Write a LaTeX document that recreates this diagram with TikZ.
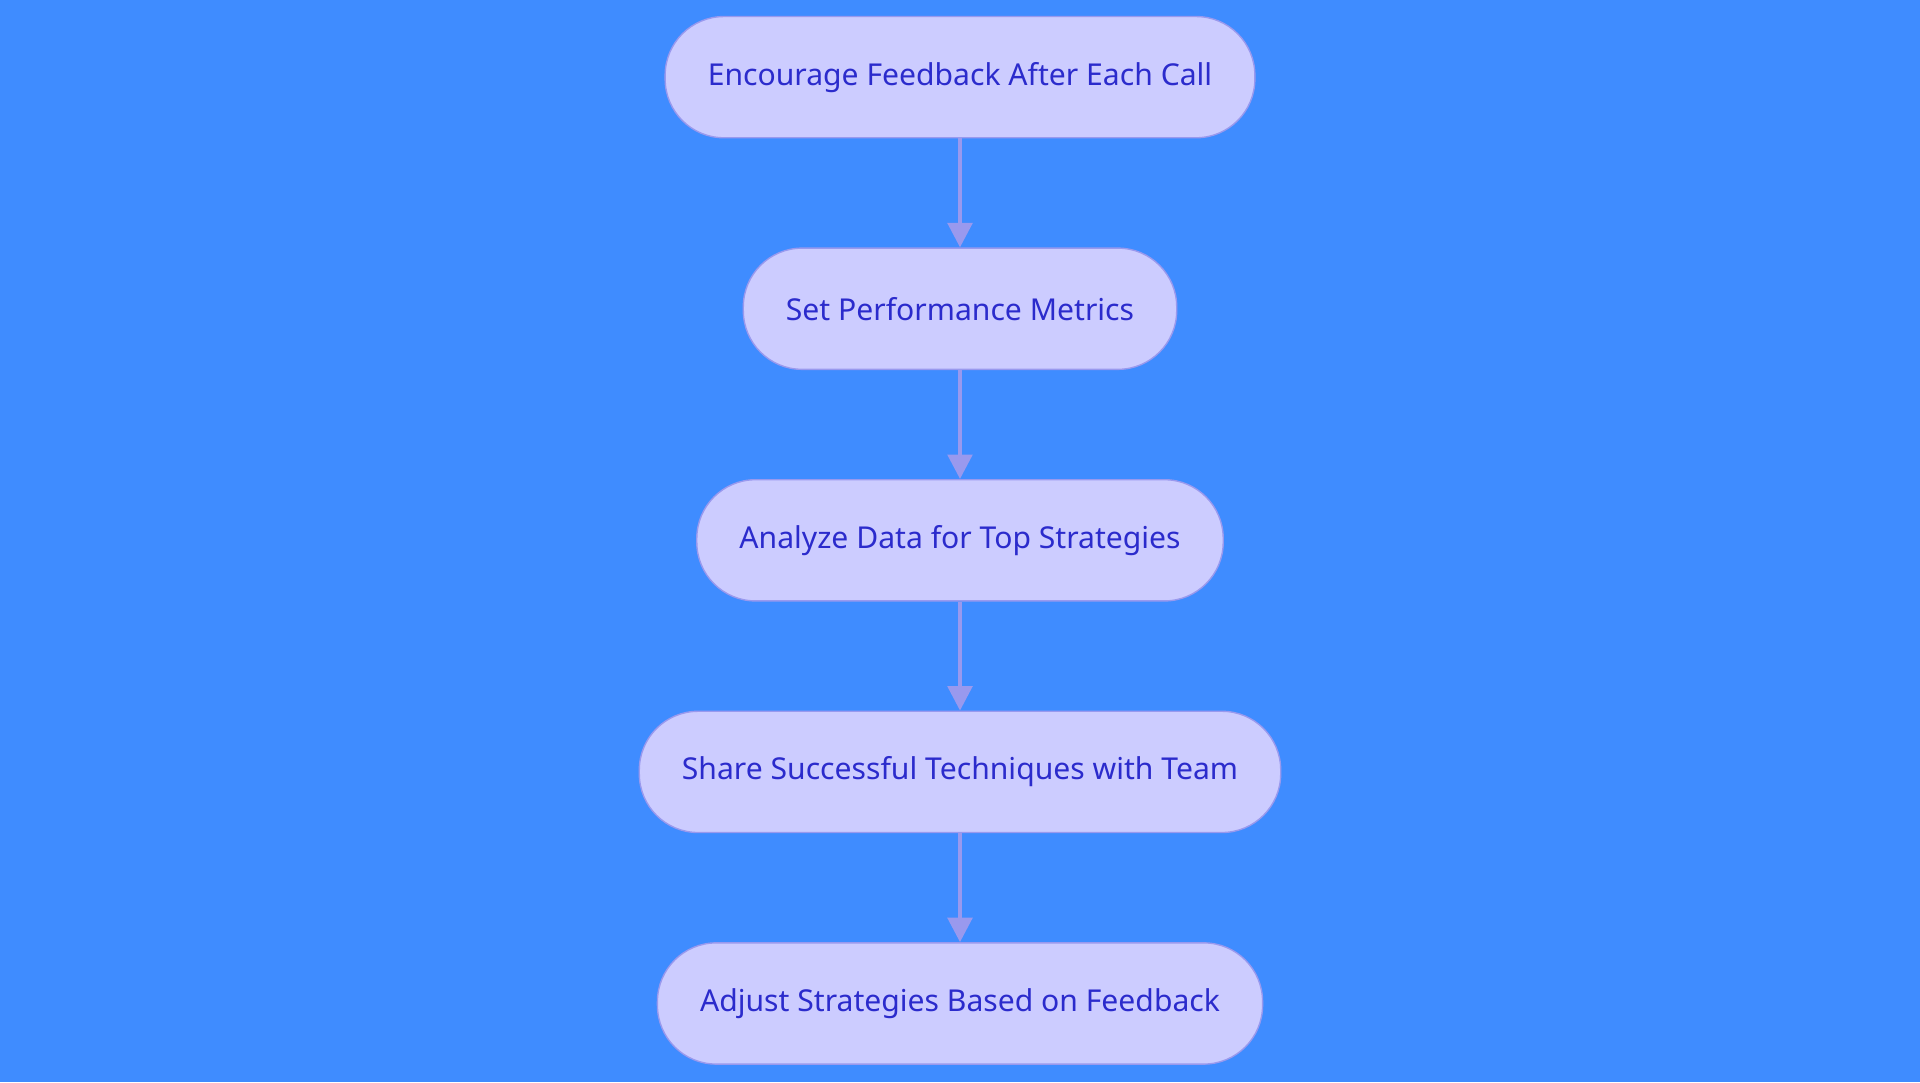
\documentclass[tikz,border=0pt]{standalone}
\usepackage{fontspec}
\setmainfont{Noto Sans}
\usetikzlibrary{positioning}
\usetikzlibrary{arrows.meta}

\definecolor{bgblue}{HTML}{3F8CFF}
\definecolor{stepfill}{HTML}{CCCCFF}
\definecolor{stepline}{HTML}{9999EE}
\definecolor{steptext}{HTML}{2B2BCC}

\tikzset{
  stepbox/.style={draw=stepline, fill=stepfill, text=steptext, line width=0.8pt,
    rounded corners=1.2cm, minimum height=2.475cm, inner xsep=0.87cm,
    font=\fontsize{17.5}{20}\selectfont},
  link/.style={draw=stepline, line width=2.4pt, -{Triangle[length=0.5cm,width=0.5cm]}}
}

\begin{document}
\begin{tikzpicture}[node distance=2.225cm]

% background
\fill[bgblue] (0,0) rectangle (39.2,-22.1);
\useasboundingbox (0,0) rectangle (39.2,-22.1);

% steps
\node[stepbox] (feedback) at (19.6,-1.575) {Encourage Feedback After Each Call};
\node[stepbox, below=of feedback] (metrics) {Set Performance Metrics};
\node[stepbox, below=of metrics] (analyze) {Analyze Data for Top Strategies};
\node[stepbox, below=of analyze] (share) {Share Successful Techniques with Team};
\node[stepbox, below=of share] (adjust) {Adjust Strategies Based on Feedback};

% arrows
\draw[link] (feedback) -- (metrics);
\draw[link] (metrics) -- (analyze);
\draw[link] (analyze) -- (share);
\draw[link] (share) -- (adjust);
\end{tikzpicture}
\end{document}
